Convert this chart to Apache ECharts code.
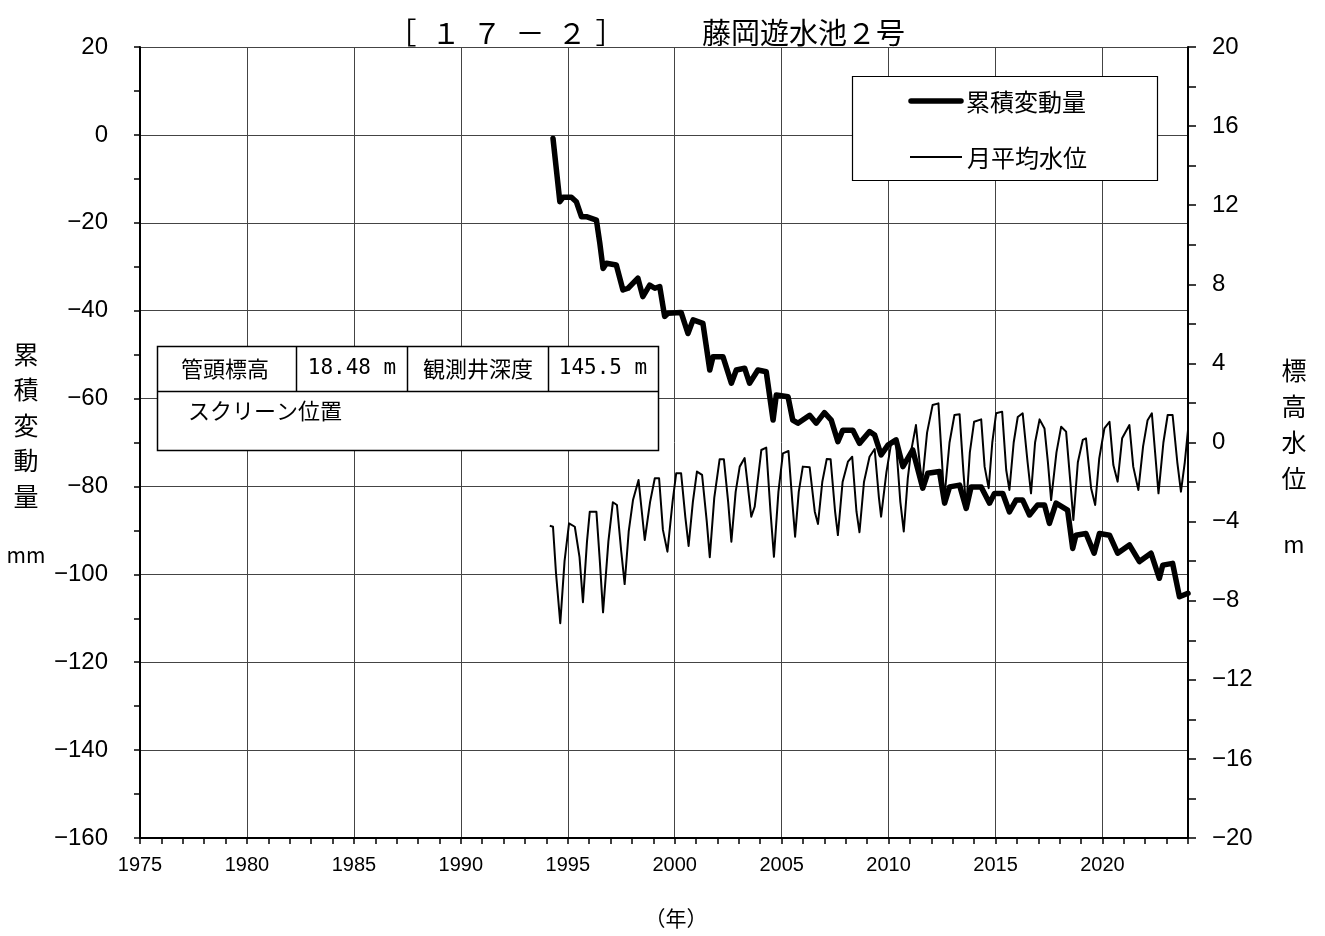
<!DOCTYPE html>
<html><head><meta charset="utf-8">
<script src="https://cdn.jsdelivr.net/npm/echarts@6/dist/echarts.min.js"></script>
<style>html,body{margin:0;padding:0;background:#fff}#c{width:1325px;height:936px}</style>
</head><body><div id="c"></div>
<script>
// 累積変動量 (mm, left axis)
const hendoYears = [1994.31,1994.63,1994.78,1995.17,1995.4,1995.64,1995.87,1996.34,1996.5,1996.65,1996.81,1997.27,1997.58,1997.82,1998.28,1998.51,1998.83,1999.07,1999.3,1999.53,1999.69,2000.3,2000.62,2000.86,2001.32,2001.64,2001.79,2002.26,2002.65,2002.88,2003.27,2003.5,2003.89,2004.28,2004.6,2004.75,2005.3,2005.52,2005.76,2006.31,2006.62,2007.0,2007.32,2007.63,2007.86,2008.33,2008.64,2009.11,2009.35,2009.65,2009.97,2010.35,2010.67,2011.13,2011.6,2011.83,2012.38,2012.62,2012.85,2013.32,2013.63,2013.86,2014.33,2014.72,2014.95,2015.34,2015.65,2015.96,2016.27,2016.59,2016.97,2017.29,2017.52,2017.83,2018.37,2018.61,2018.76,2019.23,2019.61,2019.86,2020.33,2020.71,2021.26,2021.73,2022.27,2022.66,2022.82,2023.28,2023.6,2024.0];
const hendoValues = [-0.8,-15.2,-14.2,-14.2,-15.2,-18.6,-18.6,-19.4,-24.7,-30.4,-29.2,-29.6,-35.3,-34.9,-32.6,-36.8,-34.2,-34.9,-34.5,-41.3,-40.6,-40.4,-45.2,-42.1,-42.9,-53.5,-50.5,-50.5,-56.5,-53.5,-53.1,-56.5,-53.5,-53.9,-64.9,-59.2,-59.6,-64.9,-65.6,-63.8,-65.6,-63.2,-64.9,-69.8,-67.2,-67.2,-70.2,-67.5,-68.3,-72.8,-70.6,-69.4,-75.5,-71.7,-80.4,-77.0,-76.6,-83.8,-80.1,-79.7,-85.0,-80.1,-80.1,-83.8,-81.6,-81.6,-85.8,-83.1,-83.1,-86.5,-84.2,-84.2,-88.4,-83.8,-85.4,-94.1,-91.1,-90.7,-95.2,-90.7,-91.1,-95.2,-93.3,-97.1,-95.2,-100.9,-97.9,-97.5,-105.1,-104.3];
// 月平均水位 (m, right axis)
const suiiYears = [1994.16,1994.31,1994.45,1994.65,1994.85,1995.06,1995.33,1995.55,1995.71,1995.9,1996.03,1996.34,1996.5,1996.65,1996.9,1997.11,1997.3,1997.5,1997.66,1997.85,1998.05,1998.31,1998.6,1998.85,1999.07,1999.27,1999.45,1999.66,1999.9,2000.07,2000.3,2000.5,2000.65,2000.85,2001.04,2001.28,2001.5,2001.64,2001.85,2002.1,2002.3,2002.5,2002.65,2002.85,2003.04,2003.27,2003.58,2003.74,2004.05,2004.28,2004.48,2004.64,2004.85,2005.06,2005.32,2005.5,2005.63,2005.8,2005.99,2006.31,2006.55,2006.7,2006.9,2007.11,2007.29,2007.5,2007.63,2007.85,2008.1,2008.3,2008.5,2008.64,2008.85,2009.11,2009.35,2009.55,2009.65,2009.9,2010.12,2010.35,2010.55,2010.71,2010.9,2011.05,2011.28,2011.45,2011.57,2011.8,2012.06,2012.33,2012.5,2012.6,2012.85,2013.08,2013.32,2013.5,2013.63,2013.8,2014.0,2014.33,2014.49,2014.68,2014.85,2015.03,2015.31,2015.5,2015.65,2015.85,2016.04,2016.27,2016.5,2016.66,2016.85,2017.06,2017.29,2017.45,2017.6,2017.85,2018.07,2018.3,2018.5,2018.64,2018.85,2019.08,2019.23,2019.47,2019.66,2019.85,2020.09,2020.33,2020.51,2020.71,2020.92,2021.26,2021.44,2021.68,2021.9,2022.11,2022.31,2022.5,2022.62,2022.85,2023.05,2023.28,2023.5,2023.67,2023.85,2024.0];
const suiiValues = [-4.21,-4.26,-6.6,-9.14,-6.0,-4.09,-4.26,-5.8,-8.08,-5.0,-3.5,-3.5,-6.0,-8.59,-5.0,-3.02,-3.16,-5.5,-7.16,-4.5,-2.91,-1.9,-4.93,-3.0,-1.81,-1.81,-4.42,-5.52,-3.0,-1.56,-1.56,-3.8,-5.23,-3.0,-1.47,-1.64,-4.0,-5.8,-2.8,-0.85,-0.85,-3.0,-5.02,-2.5,-1.22,-0.79,-3.75,-3.25,-0.38,-0.26,-3.5,-5.78,-2.5,-0.55,-0.43,-3.0,-4.76,-2.5,-1.22,-1.25,-3.5,-4.12,-2.0,-0.83,-0.85,-3.5,-4.68,-2.0,-0.97,-0.72,-3.5,-4.54,-2.0,-0.72,-0.33,-2.8,-3.75,-1.5,-0.04,-0.04,-3.0,-4.5,-1.8,-0.46,0.88,-1.0,-2.06,0.5,1.9,1.98,-1.0,-2.91,0.0,1.39,1.43,-1.5,-3.3,-0.5,1.05,1.17,-1.22,-2.31,0.0,1.48,1.56,-1.39,-2.4,0.0,1.29,1.48,-1.0,-2.57,0.0,1.17,0.71,-1.0,-2.91,-0.5,0.8,0.55,-2.0,-3.92,-1.0,0.13,0.21,-2.31,-3.16,-0.8,0.71,1.05,-1.14,-1.98,0.21,0.88,-1.22,-2.4,-0.2,1.13,1.48,-1.0,-2.57,0.0,1.39,1.39,-1.0,-2.49,-1.0,0.63];

const titleLeftChars = ['［','１','７','－','２','］'];
const titleRight = '藤岡遊水池２号';
const leftAxisName = ['累','積','変','動','量'];
const rightAxisName = ['標','高','水','位'];
const legendNames = ['累積変動量','月平均水位'];
const tableCells = ['管頭標高','18.48 m','観測井深度','145.5 m','スクリーン位置'];

const xMin = 1975, xMax = 2024;
const yLeft = {min: -160, max: 20, interval: 20};
const yRight = {min: -20, max: 20, interval: 4};

const hendoData = hendoYears.map((x, i) => [x, hendoValues[i]]);
const suiiData = suiiYears.map((x, i) => [x, suiiValues[i]]);

const CJK = '"Noto Sans CJK JP", sans-serif';
const NUM = '"Liberation Sans", Arial, sans-serif';
const fmt = v => String(v).replace('-', '−');

const graphic = [];
function txt(x, y, text, font, align) {
  graphic.push({type:'text', x:x, y:y, z:101, style:{text:text, font:font, fill:'#000', textAlign:align || 'center', verticalAlign:'middle', textVerticalAlign:'middle'}});
}
// title
const titleCenters = [402, 446, 487, 530, 572, 610];
titleLeftChars.forEach((ch, i) => txt(titleCenters[i], 33, ch, '29px ' + CJK));
txt(702, 33, titleRight, '29px ' + CJK, 'left');
// axis names
leftAxisName.forEach((ch, i) => txt(26, 354 + i*35.5, ch, '25px ' + CJK));
txt(26, 555, 'mm', '21px ' + CJK);
rightAxisName.forEach((ch, i) => txt(1294, 370 + i*36.3, ch, '25px ' + CJK));
txt(1294, 544, 'm', '23px ' + CJK);
txt(676, 918, '（年）', '21px ' + CJK);
// legend
graphic.push({type:'rect', z:100, shape:{x:852.5, y:76.5, width:305, height:104}, style:{fill:'#fff', stroke:'#000', lineWidth:1.2}});
graphic.push({type:'line', z:101, shape:{x1:911, y1:101, x2:961, y2:101}, style:{stroke:'#000', lineWidth:5.5, lineCap:'round'}});
graphic.push({type:'line', z:101, shape:{x1:910, y1:157, x2:962, y2:157}, style:{stroke:'#000', lineWidth:2}});
txt(966, 102, legendNames[0], '24px ' + CJK, 'left');
txt(967, 158, legendNames[1], '24px ' + CJK, 'left');
// info table
graphic.push({type:'rect', z:100, shape:{x:157.5, y:346.5, width:501, height:104}, style:{fill:'#fff', stroke:'#000', lineWidth:1.5}});
graphic.push({type:'line', z:101, shape:{x1:157.5, y1:391.5, x2:658.5, y2:391.5}, style:{stroke:'#000', lineWidth:1.5}});
[296.5, 407.5, 548.5].forEach(x => graphic.push({type:'line', z:101, shape:{x1:x, y1:346.5, x2:x, y2:391.5}, style:{stroke:'#000', lineWidth:1.5}}));
const cellCenters = [225, 352, 478, 603];
cellCenters.forEach((cx, i) => {
  const isNum = i % 2 === 1;
  txt(cx, 369, tableCells[i], isNum ? '21px "DejaVu Sans Mono", monospace' : '22px ' + CJK);
});
txt(188, 411, tableCells[4], '22px ' + CJK, 'left');

const option = {
  animation: false,
  backgroundColor: '#fff',
  grid: {left: 140, right: 137, top: 47, bottom: 98, containLabel: false},
  xAxis: [
    {type:'value', min:xMin, max:xMax, interval:5, position:'bottom',
     axisLine:{show:true, onZero:false, lineStyle:{color:'#000', width:2}},
     axisTick:{show:false},
     axisLabel:{show:true, margin:17, color:'#000', fontSize:20, fontFamily:NUM, showMaxLabel:false, formatter: v => String(v)},
     splitLine:{show:true, lineStyle:{color:'#444', width:1}}},
    {type:'value', min:xMin, max:xMax, interval:1, position:'bottom',
     axisLine:{show:false, onZero:false},
     axisTick:{show:true, length:6, lineStyle:{color:'#000', width:1.5}},
     axisLabel:{show:false},
     splitLine:{show:false}}
  ],
  yAxis: [
    {type:'value', position:'left', min:yLeft.min, max:yLeft.max, interval:yLeft.interval,
     axisLine:{show:true, onZero:false, lineStyle:{color:'#000', width:2}},
     axisTick:{show:true, length:6, lineStyle:{color:'#000', width:1.5}},
     minorTick:{show:true, splitNumber:2, length:6, lineStyle:{color:'#000', width:1.5}},
     axisLabel:{margin:32, color:'#000', fontSize:24, fontFamily:NUM, formatter: fmt},
     splitLine:{show:true, lineStyle:{color:'#444', width:1}}},
    {type:'value', position:'right', min:yRight.min, max:yRight.max, interval:yRight.interval,
     axisLine:{show:true, onZero:false, lineStyle:{color:'#000', width:2}},
     axisTick:{show:true, length:8, lineStyle:{color:'#000', width:1.5}},
     minorTick:{show:true, splitNumber:2, length:8, lineStyle:{color:'#000', width:1.5}},
     axisLabel:{margin:24, color:'#000', fontSize:24, fontFamily:NUM, formatter: fmt},
     splitLine:{show:false}}
  ],
  series: [
    {name:legendNames[1], type:'line', xAxisIndex:0, yAxisIndex:1, data:suiiData, showSymbol:false, symbol:'none', smooth:false,
     lineStyle:{color:'#000', width:2, join:'round'}, z:2},
    {name:legendNames[0], type:'line', xAxisIndex:0, yAxisIndex:0, data:hendoData, showSymbol:false, symbol:'none', smooth:false,
     lineStyle:{color:'#000', width:5.5, join:'round', cap:'round'}, z:3}
  ],
  graphic: graphic
};
const chart = echarts.init(document.getElementById('c'), null, {renderer:'canvas'});
chart.setOption(option);
</script>
</body></html>
